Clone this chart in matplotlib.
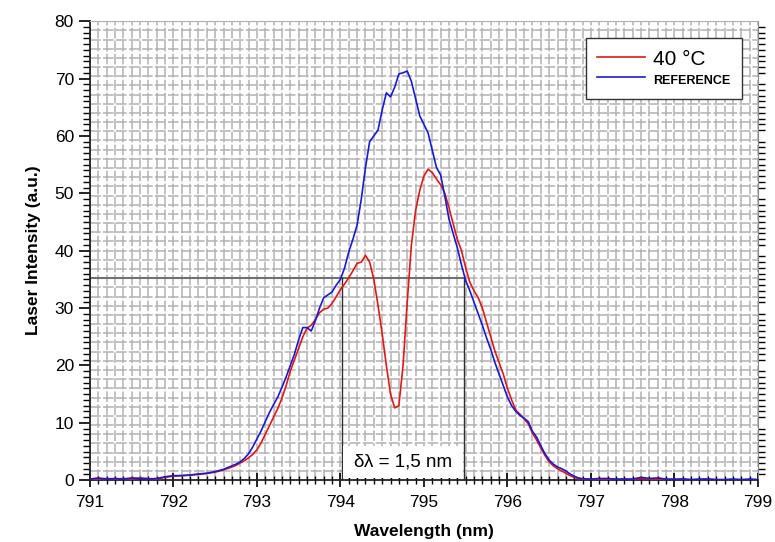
import matplotlib
matplotlib.use("Agg")
import matplotlib.pyplot as plt
from matplotlib.ticker import MultipleLocator
from matplotlib.patches import Rectangle

plt.rcParams['font.family'] = ['Liberation Sans', 'DejaVu Sans']

wl_left = [791.0, 791.1, 791.2, 791.3, 791.4, 791.5, 791.6, 791.7, 791.8, 791.9,
           792.0, 792.1, 792.2, 792.3, 792.4, 792.5, 792.6, 792.7, 792.75]
wl_mid = [792.80, 792.85, 792.90, 792.95, 793.00, 793.05, 793.10, 793.15, 793.20, 793.25,
          793.30, 793.35, 793.40, 793.45, 793.50, 793.55, 793.60, 793.65, 793.70, 793.75,
          793.80, 793.85, 793.90, 793.95, 794.00, 794.05, 794.10, 794.15, 794.20, 794.25,
          794.30, 794.35, 794.40, 794.45, 794.50, 794.55, 794.60, 794.65, 794.70, 794.75,
          794.80, 794.85, 794.90, 794.95, 795.00, 795.05, 795.10, 795.15, 795.20, 795.25,
          795.30, 795.35, 795.40, 795.45, 795.50, 795.55, 795.60, 795.65, 795.70, 795.75,
          795.80, 795.85, 795.90, 795.95, 796.00, 796.05, 796.10, 796.15, 796.20, 796.25,
          796.30, 796.35, 796.40, 796.45, 796.50, 796.55, 796.60, 796.65, 796.70, 796.75,
          796.80, 796.85, 796.90]
wl_right = [797.0, 797.1, 797.2, 797.3, 797.4, 797.5, 797.6, 797.7, 797.8, 797.9,
            798.0, 798.1, 798.2, 798.3, 798.4, 798.5, 798.6, 798.7, 798.8, 798.9, 799.0]

ref_left = [0.2, 0.4, 0.2, 0.3, 0.2, 0.4, 0.3, 0.2, 0.3, 0.6,
            0.8, 0.8, 0.9, 1.1, 1.2, 1.5, 1.9, 2.5, 2.8]
ref_mid = [3.2, 3.8, 4.6, 5.8, 7.2, 8.6, 10.2, 11.8, 13.2, 14.5,
           16.2, 18.0, 20.0, 22.0, 24.5, 26.6, 26.6, 26.0, 27.8, 30.0,
           31.8, 32.3, 32.8, 34.0, 35.0, 37.0, 39.8, 42.0, 44.5, 49.0,
           54.5, 59.0, 60.0, 61.0, 64.5, 67.5, 66.8, 68.5, 70.8, 71.0,
           71.3, 69.5, 66.5, 63.5, 62.0, 60.5, 57.5, 54.5, 53.2, 49.5,
           45.5, 43.0, 40.5, 37.5, 34.8, 33.0, 31.0, 29.0, 27.0, 24.8,
           22.8, 20.5, 18.5, 16.5, 14.5, 13.0, 12.0, 11.3, 10.8, 10.2,
           8.5, 7.5, 6.0, 4.6, 3.5, 2.8, 2.3, 2.0, 1.6, 1.1,
           0.7, 0.4, 0.25]
ref_right = [0.2, 0.3, 0.3, 0.2, 0.2, 0.2, 0.5, 0.3, 0.4, 0.2,
             0.2, 0.2, 0.1, 0.2, 0.2, 0.1, 0.1, 0.2, 0.1, 0.2, 0.1]

hot_left = [0.1, 0.2, 0.3, 0.2, 0.3, 0.2, 0.4, 0.3, 0.2, 0.5,
            0.7, 0.8, 0.9, 1.0, 1.2, 1.4, 1.8, 2.3, 2.6]
hot_mid = [3.0, 3.4, 3.9, 4.5, 5.3, 6.5, 8.0, 9.5, 11.0, 12.5,
           14.3, 16.5, 19.0, 21.0, 23.0, 25.0, 26.5, 27.0, 28.0, 29.2,
           29.8, 30.0, 30.8, 32.0, 33.2, 34.2, 35.3, 36.5, 37.8, 38.0,
           39.2, 38.0, 35.0, 30.5, 25.5, 20.0, 15.0, 12.6, 13.0, 20.0,
           31.0, 41.0, 47.0, 50.5, 53.0, 54.2, 53.6, 52.5, 51.5, 50.0,
           47.5, 44.7, 42.0, 40.0, 37.0, 34.5, 33.0, 31.8, 30.0, 27.5,
           25.0, 22.5, 20.5, 18.5, 16.0, 14.0, 12.2, 11.5, 10.7, 9.8,
           8.2, 7.0, 5.6, 4.3, 3.2, 2.5, 2.0, 1.6, 1.2, 0.8,
           0.5, 0.3, 0.2]
hot_right = [0.1, 0.2, 0.1, 0.1, 0.2, 0.1, 0.3, 0.2, 0.2, 0.1,
             0.1, 0.2, 0.1, 0.1, 0.2, 0.1, 0.1, 0.1, 0.1, 0.1, 0.1]

wavelength = wl_left + wl_mid + wl_right
reference = ref_left + ref_mid + ref_right
hot40 = hot_left + hot_mid + hot_right

half_level = 35.2
fwhm_left, fwhm_right = 794.02, 795.48

fig = plt.figure(figsize=(7.75, 5.42), dpi=100)
ax = fig.add_axes([0.116, 0.114, 0.862, 0.847])

ax.set_xlim(791, 799)
ax.set_ylim(0, 80)
ax.xaxis.set_major_locator(MultipleLocator(1))
ax.xaxis.set_minor_locator(MultipleLocator(0.1))
ax.yaxis.set_major_locator(MultipleLocator(10))
ax.yaxis.set_minor_locator(MultipleLocator(1))

grid_kw = dict(color='#b2b2b2', linewidth=1.1, linestyle=(0, (7, 1.5)), zorder=0)
ax.grid(which='both', axis='x', **{k: v for k, v in grid_kw.items() if k != 'zorder'})
for i in range(1, 50):
    ax.axhline(i * 1.6, **grid_kw)
ax.set_axisbelow(True)

ax.tick_params(axis='x', which='major', direction='inout', length=10, width=1.2,
               labelsize=12.5, pad=6, top=False)
ax.tick_params(axis='x', which='minor', direction='inout', length=6, width=1.0, top=False)
ax.tick_params(axis='y', which='major', direction='out', length=8, width=1.2,
               labelsize=12.5, right=False)
ax.tick_params(axis='y', which='minor', direction='out', length=5, width=1.0)
ax.tick_params(axis='y', which='minor', right=True)

for s in ['left', 'bottom']:
    ax.spines[s].set_linewidth(1.3)
    ax.spines[s].set_color('#222222')
ax.spines['right'].set_color('#888888')
ax.spines['top'].set_color('#b0b0b0')

ax.plot([791, fwhm_right], [half_level, half_level], color='#707070', linewidth=1.5, zorder=2)
ax.plot([fwhm_left, fwhm_left], [0, half_level], color='#303030', linewidth=1.0, zorder=2)
ax.plot([fwhm_right, fwhm_right], [0, half_level], color='#303030', linewidth=1.0, zorder=2)

ax.plot(wavelength, hot40, color='#e01818', linewidth=1.2, label='40 °C', zorder=3)
ax.plot(wavelength, reference, color='#1a1ad4', linewidth=1.2, label='REFERENCE', zorder=4)

ax.add_patch(Rectangle((fwhm_left + 0.01, 0.3), fwhm_right - fwhm_left - 0.02, 5.6,
                       facecolor='white', edgecolor='none', zorder=5))
ax.text((fwhm_left + fwhm_right) / 2, 3.1, 'δλ = 1,5 nm', ha='center', va='center',
        fontsize=13.5, zorder=6)

leg = ax.legend(loc='upper right', bbox_to_anchor=(0.976, 0.963), borderaxespad=0,
                fancybox=False, framealpha=1, edgecolor='#333333', handlelength=2.3,
                borderpad=0.55, labelspacing=0.05, handletextpad=0.4, prop={'size': 15})
leg.get_frame().set_linewidth(1.0)
leg.get_texts()[1].set_fontsize(9)
leg.get_texts()[1].set_fontweight('bold')
leg.set_zorder(7)

ax.set_xlabel('Wavelength (nm)', fontsize=12.5, fontweight='bold', labelpad=10)
ax.set_ylabel('Laser Intensity (a.u.)', fontsize=12.5, fontweight='bold', labelpad=10)

fig.savefig('out.png', dpi=100)
